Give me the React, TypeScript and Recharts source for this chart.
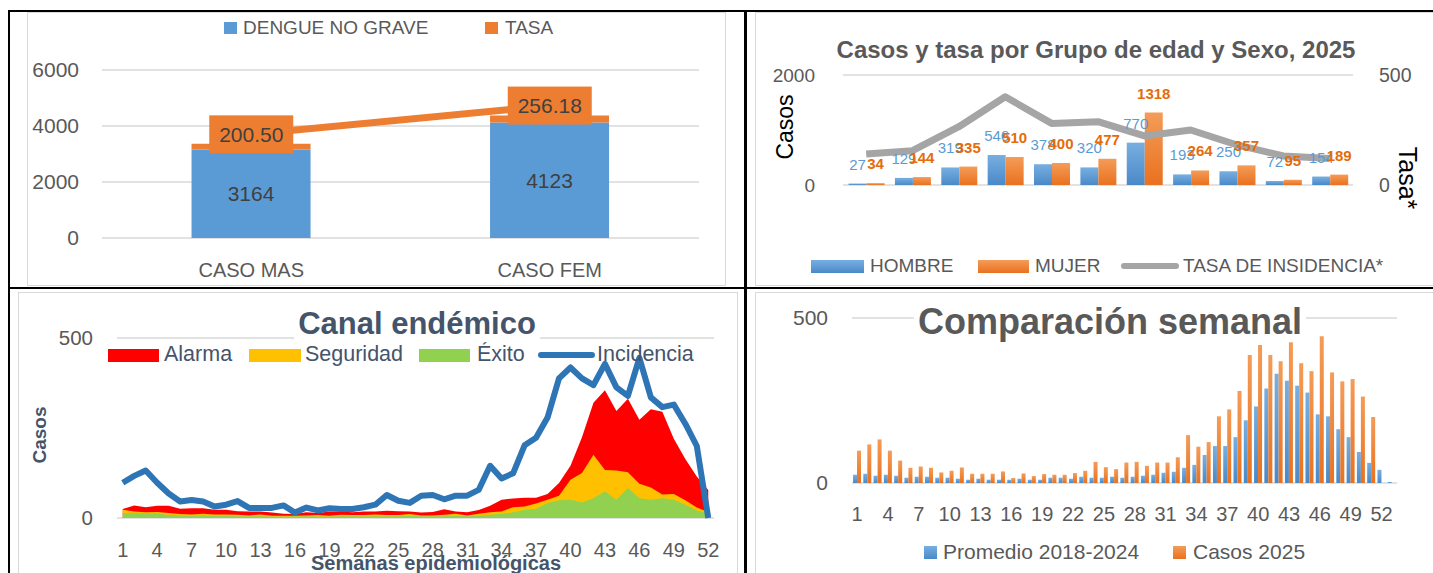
import React from 'react';
import {
  ComposedChart,
  Bar,
  Line,
  Area,
  XAxis,
  YAxis,
  CartesianGrid,
  LabelList,
  Legend,
} from 'recharts';

const FONT = '"Liberation Sans", Arial, sans-serif';

// ---------- Panel 1: casos por sexo ----------
const sexCategories = ['CASO MAS', 'CASO FEM'];
const dengueNoGrave = [3164, 4123];
const tasaSexo = [200.5, 256.18];

// ---------- Panel 2: grupo de edad y sexo ----------
const ageGroups = ['G1', 'G2', 'G3', 'G4', 'G5', 'G6', 'G7', 'G8', 'G9', 'G10', 'G11'];
const hombre = [27, 129, 319, 546, 378, 320, 770, 193, 250, 72, 154];
const mujer = [34, 144, 335, 510, 400, 477, 1318, 264, 357, 95, 189];
const tasaIncidencia = [141, 156, 265, 401, 280, 288, 223, 250, 182, 132, 121];

// ---------- Panel 3: canal endémico ----------
const semanas52 = Array.from({ length: 52 }, (_, i) => String(i + 1));
const alarma = [25, 35, 30, 34, 34, 26, 27, 27, 23, 23, 19, 18, 18, 15, 12, 11, 16, 14, 18, 18, 16, 18, 18, 20, 19, 18, 15, 17, 24, 18, 16, 22, 34, 51, 54, 56, 56, 67, 97, 145, 224, 320, 355, 297, 331, 273, 302, 295, 220, 164, 115, 78];
const seguridad = [23, 18, 16, 17, 14, 11, 10, 12, 10, 10, 9, 7, 10, 6, 6, 6, 7, 8, 6, 9, 8, 8, 10, 8, 8, 11, 7, 7, 9, 12, 7, 12, 16, 18, 30, 32, 40, 51, 62, 106, 125, 176, 133, 132, 127, 95, 85, 65, 67, 49, 29, 17];
const exito = [13, 13, 13, 13, 8, 7, 6, 7, 6, 6, 5, 5, 5, 4, 4, 4, 5, 4, 4, 5, 5, 5, 5, 5, 5, 6, 5, 5, 5, 6, 5, 6, 9, 12, 16, 23, 26, 42, 49, 51, 43, 55, 74, 51, 83, 55, 51, 55, 51, 37, 21, 12];
const casos2025 = [98, 117, 132, 98, 68, 46, 50, 46, 32, 37, 47, 28, 28, 28, 35, 15, 29, 21, 27, 25, 25, 30, 37, 64, 48, 42, 62, 64, 52, 62, 62, 78, 145, 110, 124, 202, 223, 279, 388, 418, 388, 369, 428, 363, 339, 445, 335, 308, 315, 262, 200, 0];

// ---------- Panel 4: comparación semanal ----------
const semanas53 = Array.from({ length: 53 }, (_, i) => String(i + 1));
const promedio = [25, 28, 22, 25, 22, 16, 19, 19, 16, 16, 13, 10, 13, 10, 10, 10, 13, 10, 10, 16, 16, 13, 19, 16, 16, 19, 16, 19, 22, 25, 31, 34, 46, 55, 85, 112, 112, 139, 190, 232, 286, 331, 310, 295, 274, 208, 202, 163, 139, 94, 61, 40, 3];
const casos2025Semana53 = 0;

const sexoData = sexCategories.map((c, i) => ({ cat: c, casos: dengueNoGrave[i], tasa: tasaSexo[i] }));
const edadData = ageGroups.map((g, i) => ({ grupo: g, hombre: hombre[i], mujer: mujer[i], tasa: tasaIncidencia[i] }));
const canalData = semanas52.map((s, i) => ({
  semana: s,
  alarma: alarma[i],
  seguridad: seguridad[i],
  exito: exito[i],
  incidencia: casos2025[i],
}));
const compData = semanas53.map((s, i) => ({
  semana: s,
  promedio: promedio[i],
  casos: i < casos2025.length ? casos2025[i] : casos2025Semana53,
}));

type LegItem = { x: number; w: number; h: number; bg: string; round?: boolean; label: string; tx: number };

const makeLegend = (items: LegItem[], cy: number, fontSize: number, color: string) => () => (
  <div style={{ position: 'relative', width: 0, height: 0 }}>
    {items.map((it, i) => (
      <React.Fragment key={i}>
        <div
          style={{
            position: 'absolute',
            left: it.x,
            top: cy - it.h / 2,
            width: it.w,
            height: it.h,
            background: it.bg,
            borderRadius: it.round ? it.h / 2 : 0,
          }}
        />
        <div
          style={{
            position: 'absolute',
            left: it.tx,
            top: cy - fontSize * 0.6,
            height: fontSize * 1.2,
            lineHeight: `${fontSize * 1.2}px`,
            fontSize,
            color,
            whiteSpace: 'nowrap',
            fontFamily: FONT,
          }}
        >
          {it.label}
        </div>
      </React.Fragment>
    ))}
  </div>
);

const legendWrap = { left: 0, top: 0, width: 0, height: 0, margin: 0, padding: 0 };

const TasaBox = (props: any) => {
  const vb = props.viewBox || {};
  const x = props.x ?? vb.x;
  const y = props.y ?? vb.y;
  if (x == null || y == null) return null;
  return (
    <g>
      <rect x={x - 42} y={y - 19} width={84} height={38} fill="#ED7D31" />
      <text
        x={x}
        y={y + 7.5}
        textAnchor="middle"
        fontSize={21}
        fill="#404040"
        fontFamily={FONT}
      >
        {Number(props.value).toFixed(2)}
      </text>
    </g>
  );
};

const blueGrad = 'linear-gradient(#78AFE1, #4A89C8)';
const orangeGrad = 'linear-gradient(#F49C58, #E9711F)';

const tickStyle = (size: number, fill = '#595959') => ({ fontSize: size, fill, fontFamily: FONT });

const Abs = ({ left, top, children }: any) => (
  <div style={{ position: 'absolute', left, top }}>{children}</div>
);

const TextAt = ({ x, y, size, color, bold, rotate, bg, children }: any) => (
  <div
    style={{
      position: 'absolute',
      left: x,
      top: y,
      transform: `translate(-50%, -50%)${rotate ? ` rotate(${rotate}deg)` : ''}`,
      fontSize: size,
      lineHeight: 1.15,
      color,
      fontWeight: bold ? 700 : 400,
      whiteSpace: 'nowrap',
      fontFamily: FONT,
      background: bg || 'transparent',
      padding: bg ? '0 4px' : 0,
    }}
  >
    {children}
  </div>
);

const Box = ({ left, top, width, height, color, w }: any) => (
  <div style={{ position: 'absolute', left, top, width, height, background: color || '#000' }} />
);

const Frame = ({ left, top, width, height }: any) => (
  <div
    style={{
      position: 'absolute',
      left,
      top,
      width,
      height,
      border: '1px solid #D9D9D9',
      boxSizing: 'border-box',
    }}
  />
);

export default function App() {
  return (
    <div
      style={{
        position: 'absolute',
        left: 0,
        top: 0,
        width: 1433,
        height: 573,
        background: '#fff',
        overflow: 'hidden',
        fontFamily: FONT,
      }}
    >
      {/* chart area borders */}
      <Frame left={27} top={12} width={699} height={274} />
      <Frame left={755} top={12} width={700} height={274} />
      <Frame left={18} top={292} width={720} height={300} />
      <Frame left={755} top={292} width={700} height={300} />

      {/* Panel 1 */}
      <Abs left={27} top={12}>
        <ComposedChart
          width={699}
          height={274}
          data={sexoData}
          margin={{ top: 58, right: 27, bottom: 18, left: 15 }}
          barCategoryGap="30%"
        >
          <CartesianGrid yAxisId="l" vertical={false} stroke="#D9D9D9" strokeWidth={1.5} />
          <XAxis
            dataKey="cat"
            axisLine={false}
            tickLine={false}
            tickSize={0}
            tickMargin={25}
            tick={tickStyle(20)}
          />
          <YAxis
            yAxisId="l"
            domain={[0, 6000]}
            ticks={[0, 2000, 4000, 6000]}
            axisLine={false}
            tickLine={false}
            tickSize={0}
            tickMargin={23}
            width={60}
            tick={tickStyle(21)}
          />
          <YAxis yAxisId="r" orientation="right" hide domain={[0, 325]} />
          <Bar yAxisId="l" dataKey="casos" stackId="a" fill="#5B9BD5" isAnimationActive={false}>
            <LabelList dataKey="casos" position="center" fill="#404040" fontSize={21} fontFamily={FONT} />
          </Bar>
          <Bar yAxisId="l" dataKey="tasa" stackId="a" fill="#ED7D31" isAnimationActive={false} />
          <Line
            yAxisId="r"
            dataKey="tasa"
            stroke="#ED7D31"
            strokeWidth={7}
            dot={false}
            isAnimationActive={false}
          >
            <LabelList dataKey="tasa" content={TasaBox} />
          </Line>
          <Legend
            verticalAlign="middle"
            align="center"
            layout="horizontal"
            wrapperStyle={legendWrap}
            content={makeLegend(
              [
                { x: 197, w: 13, h: 12, bg: '#5B9BD5', label: 'DENGUE NO GRAVE', tx: 216 },
                { x: 458, w: 13, h: 12, bg: '#ED7D31', label: 'TASA', tx: 478 },
              ],
              16,
              19,
              '#595959'
            )}
          />
        </ComposedChart>
      </Abs>

      {/* Panel 2 */}
      <Abs left={755} top={12}>
        <ComposedChart
          width={678}
          height={274}
          data={edadData}
          margin={{ top: 63, right: 20, bottom: 101, left: 28 }}
          barCategoryGap="12%"
          barGap={0}
        >
          <defs>
            <linearGradient id="gBlue2" x1="0" y1="0" x2="0" y2="1">
              <stop offset="0%" stopColor="#78AFE1" />
              <stop offset="100%" stopColor="#4A89C8" />
            </linearGradient>
            <linearGradient id="gOrange2" x1="0" y1="0" x2="0" y2="1">
              <stop offset="0%" stopColor="#F49C58" />
              <stop offset="100%" stopColor="#E9711F" />
            </linearGradient>
          </defs>
          <CartesianGrid yAxisId="l" vertical={false} stroke="#D9D9D9" strokeWidth={1.5} />
          <XAxis dataKey="grupo" hide />
          <YAxis
            yAxisId="l"
            domain={[0, 2000]}
            ticks={[0, 2000]}
            axisLine={false}
            tickLine={false}
            tickSize={0}
            tickMargin={28}
            width={60}
            tick={tickStyle(19)}
          />
          <YAxis
            yAxisId="r"
            orientation="right"
            domain={[0, 500]}
            ticks={[0, 500]}
            axisLine={false}
            tickLine={false}
            tickSize={0}
            tickMargin={26}
            width={60}
            tick={tickStyle(19.5)}
          />
          <Bar yAxisId="l" dataKey="hombre" fill="url(#gBlue2)" isAnimationActive={false}>
            <LabelList
              dataKey="hombre"
              position="top"
              offset={14}
              fill="#5B9BD5"
              fontSize={15}
              fontFamily={FONT}
            />
          </Bar>
          <Bar yAxisId="l" dataKey="mujer" fill="url(#gOrange2)" isAnimationActive={false}>
            <LabelList
              dataKey="mujer"
              position="top"
              offset={14}
              fill="#E46C0A"
              fontSize={15}
              fontWeight={700}
              fontFamily={FONT}
            />
          </Bar>
          <Line
            yAxisId="r"
            dataKey="tasa"
            stroke="#A5A5A5"
            strokeWidth={7}
            strokeLinejoin="round"
            dot={false}
            isAnimationActive={false}
          />
          <Legend
            verticalAlign="middle"
            align="center"
            layout="horizontal"
            wrapperStyle={legendWrap}
            content={makeLegend(
              [
                { x: 56, w: 53, h: 13, bg: blueGrad, label: 'HOMBRE', tx: 115 },
                { x: 223, w: 51, h: 13, bg: orangeGrad, label: 'MUJER', tx: 280 },
                { x: 366, w: 58, h: 6, bg: '#A5A5A5', round: true, label: 'TASA DE INSIDENCIA*', tx: 428 },
              ],
              254,
              19,
              '#595959'
            )}
          />
        </ComposedChart>
      </Abs>
      <TextAt x={1096} y={50} size={24} color="#595959" bold>
        Casos y tasa por Grupo de edad y Sexo, 2025
      </TextAt>
      <TextAt x={785} y={127} size={23} color="#000" rotate={-90}>
        Casos
      </TextAt>
      <TextAt x={1408} y={178} size={25} color="#000" rotate={90}>
        Tasa*
      </TextAt>

      {/* Panel 3 */}
      <Abs left={18} top={292}>
        <ComposedChart
          width={720}
          height={281}
          data={canalData}
          margin={{ top: 46, right: 24, bottom: 25, left: 39 }}
        >
          <CartesianGrid vertical={false} stroke="#D9D9D9" strokeWidth={1.5} />
          <XAxis
            dataKey="semana"
            padding={{ left: 5.74, right: 5.74 }}
            interval={2}
            axisLine={false}
            tickLine={false}
            tickSize={0}
            tickMargin={25}
            tick={tickStyle(20)}
          />
          <YAxis
            domain={[0, 500]}
            ticks={[0, 500]}
            axisLine={false}
            tickLine={false}
            tickSize={0}
            tickMargin={24}
            width={60}
            tick={tickStyle(20.5)}
          />
          <Area
            type="linear"
            dataKey="alarma"
            stroke="none"
            fill="#FF0000"
            fillOpacity={1}
            isAnimationActive={false}
          />
          <Area
            type="linear"
            dataKey="seguridad"
            stroke="none"
            fill="#FFC000"
            fillOpacity={1}
            isAnimationActive={false}
          />
          <Area
            type="linear"
            dataKey="exito"
            stroke="none"
            fill="#92D050"
            fillOpacity={1}
            isAnimationActive={false}
          />
          <Line
            type="linear"
            dataKey="incidencia"
            stroke="#2E75B6"
            strokeWidth={6}
            strokeLinejoin="round"
            dot={false}
            isAnimationActive={false}
          />
          <Legend
            verticalAlign="middle"
            align="center"
            layout="horizontal"
            wrapperStyle={legendWrap}
            content={makeLegend(
              [
                { x: 90, w: 51, h: 13, bg: '#FF0000', label: 'Alarma', tx: 146 },
                { x: 231, w: 52, h: 13, bg: '#FFC000', label: 'Seguridad', tx: 287 },
                { x: 401, w: 51, h: 13, bg: '#92D050', label: 'Éxito', tx: 459 },
                { x: 520, w: 57, h: 6, bg: '#2E75B6', round: true, label: 'Incidencia', tx: 579 },
              ],
              63,
              21.5,
              '#44546A'
            )}
          />
        </ComposedChart>
      </Abs>
      <TextAt x={417} y={324} size={31} color="#44546A" bold bg="#fff">
        Canal endémico
      </TextAt>
      <TextAt x={40} y={435} size={19} color="#44546A" bold rotate={-90}>
        Casos
      </TextAt>
      <TextAt x={436} y={563} size={20} color="#44546A" bold>
        Semanas epidemiológicas
      </TextAt>

      {/* Panel 4 */}
      <Abs left={755} top={292}>
        <ComposedChart
          width={678}
          height={281}
          data={compData}
          margin={{ top: 26, right: 36, bottom: 60, left: 37 }}
          barCategoryGap="10%"
          barGap={0}
        >
          <defs>
            <linearGradient id="gBlue4" x1="0" y1="0" x2="0" y2="1">
              <stop offset="0%" stopColor="#78AFE1" />
              <stop offset="100%" stopColor="#4A89C8" />
            </linearGradient>
            <linearGradient id="gOrange4" x1="0" y1="0" x2="0" y2="1">
              <stop offset="0%" stopColor="#F49C58" />
              <stop offset="100%" stopColor="#E9711F" />
            </linearGradient>
          </defs>
          <CartesianGrid vertical={false} stroke="#D9D9D9" strokeWidth={1.5} />
          <XAxis
            dataKey="semana"
            interval={2}
            axisLine={false}
            tickLine={false}
            tickSize={0}
            tickMargin={24}
            tick={tickStyle(20)}
          />
          <YAxis
            domain={[0, 500]}
            ticks={[0, 500]}
            axisLine={false}
            tickLine={false}
            tickSize={0}
            tickMargin={24}
            width={60}
            tick={tickStyle(21)}
          />
          <Bar dataKey="promedio" fill="url(#gBlue4)" isAnimationActive={false} />
          <Bar dataKey="casos" fill="url(#gOrange4)" isAnimationActive={false} />
          <Legend
            verticalAlign="middle"
            align="center"
            layout="horizontal"
            wrapperStyle={legendWrap}
            content={makeLegend(
              [
                { x: 169, w: 13, h: 13, bg: blueGrad, label: 'Promedio 2018-2024', tx: 188 },
                { x: 418, w: 13, h: 13, bg: orangeGrad, label: 'Casos 2025', tx: 438 },
              ],
              260,
              21,
              '#595959'
            )}
          />
        </ComposedChart>
      </Abs>
      <TextAt x={1110} y={322} size={36} color="#595959" bold bg="#fff">
        Comparación semanal
      </TextAt>

      {/* black frame lines */}
      <Box left={8} top={10} width={1425} height={2} />
      <Box left={8} top={10} width={2} height={563} />
      <Box left={744} top={10} width={2.5} height={563} />
      <Box left={8} top={287} width={1425} height={2} />
    </div>
  );
}
